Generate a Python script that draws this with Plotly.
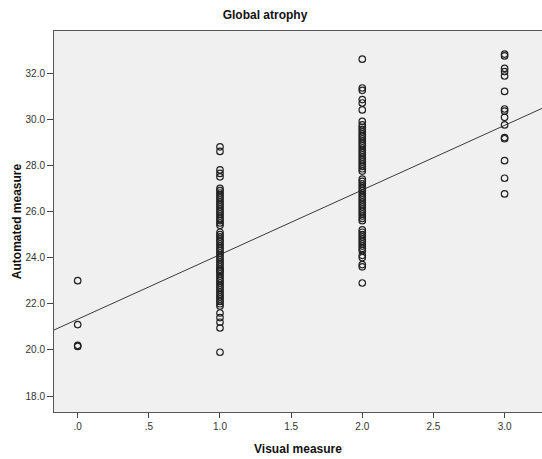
import plotly.graph_objects as go

# ---- data ----
visual_0 = [23.0, 21.1, 20.2, 20.15]
visual_1 = [28.8, 28.6, 27.8, 27.65, 27.5, 27.0, 26.9, 26.8, 26.7, 26.6, 26.5, 26.4,
            26.3, 26.2, 26.1, 26.0, 25.9, 25.8, 25.7, 25.6, 25.5, 25.4, 25.1, 25.0,
            24.9, 24.8, 24.7, 24.6, 24.5, 24.4, 24.3, 24.2, 24.1, 24.0, 23.9, 23.8,
            23.7, 23.6, 23.5, 23.45, 23.4, 23.3, 23.2, 23.1, 23.0, 22.9, 22.8, 22.7,
            22.6, 22.5, 22.4, 22.3, 22.2, 22.1, 22.0, 21.9, 21.6, 21.4, 21.2, 20.95, 19.9]
visual_2 = [32.6, 31.35, 31.25, 30.85, 30.7, 30.4, 29.9, 29.75, 29.65, 29.55, 29.45,
            29.35, 29.25, 29.15, 29.05, 28.95, 28.85, 28.75, 28.65, 28.55, 28.45, 28.35,
            28.25, 28.15, 28.05, 27.95, 27.85, 27.75, 27.4, 27.3, 27.2, 27.1, 27.0, 26.9,
            26.8, 26.7, 26.6, 26.5, 26.4, 26.3, 26.2, 26.1, 26.0, 25.9, 25.8, 25.7, 25.6,
            25.2, 25.1, 25.0, 24.9, 24.8, 24.7, 24.6, 24.5, 24.4, 24.3, 24.1, 24.0, 23.7,
            23.6, 22.9]
visual_3 = [32.82, 32.74, 32.2, 32.06, 31.87, 31.2, 30.44, 30.35, 30.08, 29.75, 29.2,
            29.15, 28.2, 27.44, 26.76]

fit_intercept = 21.33
fit_slope = 2.80

x_ticks = [0, 0.5, 1.0, 1.5, 2.0, 2.5, 3.0]
x_tick_labels = [".0", ".5", "1.0", "1.5", "2.0", "2.5", "3.0"]
y_ticks = [18, 20, 22, 24, 26, 28, 30, 32]

# ---- build ----
xs = ([0.0] * len(visual_0) + [1.0] * len(visual_1) +
      [2.0] * len(visual_2) + [3.0] * len(visual_3))
ys = visual_0 + visual_1 + visual_2 + visual_3

x_range = [-0.1665, 3.263]
y_range = [17.31, 33.82]

FONT = "Liberation Sans, Arial, sans-serif"

fig = go.Figure()
fig.add_trace(go.Scatter(
    x=[x_range[0], x_range[1]],
    y=[fit_intercept + fit_slope * x_range[0], fit_intercept + fit_slope * x_range[1]],
    mode="lines", line=dict(color="#3a3a3a", width=1), hoverinfo="skip",
    showlegend=False))
fig.add_trace(go.Scatter(
    x=xs, y=ys, mode="markers",
    marker=dict(symbol="circle-open", size=6.5, color="#222222", line=dict(width=1.2)),
    showlegend=False))

fig.update_layout(
    width=542, height=459,
    margin=dict(l=54, r=0, t=31, b=47),
    paper_bgcolor="white", plot_bgcolor="#f0f0f0",
    font=dict(family=FONT, size=10, color="#333333"),
    title=dict(text="<b>Global atrophy</b>", x=265 / 542, xref="container", xanchor="center",
               y=1 - 15 / 459, yanchor="middle",
               font=dict(family=FONT, size=12, color="#111111")),
)
fig.update_xaxes(
    range=x_range, tickvals=x_ticks, ticktext=x_tick_labels,
    showgrid=False, zeroline=False,
    ticks="outside", ticklen=5, tickcolor="#444444", tickwidth=1,
    showline=True, linecolor="#555555", linewidth=1, mirror=True,
    tickfont=dict(family=FONT, size=10, color="#333333"),
    title=dict(text="<b>Visual measure</b>", standoff=13,
               font=dict(family=FONT, size=12, color="#111111")),
)
fig.update_yaxes(
    range=y_range, tickvals=y_ticks, tickformat=".1f",
    showgrid=False, zeroline=False,
    ticks="outside", ticklen=6, tickcolor="#444444", tickwidth=1,
    showline=True, linecolor="#555555", linewidth=1, mirror=True,
    tickfont=dict(family=FONT, size=10, color="#333333"),
    title=dict(text="<b>Automated measure</b>", standoff=1,
               font=dict(family=FONT, size=12, color="#111111")),
)

fig.write_html("out.html", config={"displayModeBar": False},
               post_script="document.body.style.margin='0';document.body.style.overflow='hidden';")
